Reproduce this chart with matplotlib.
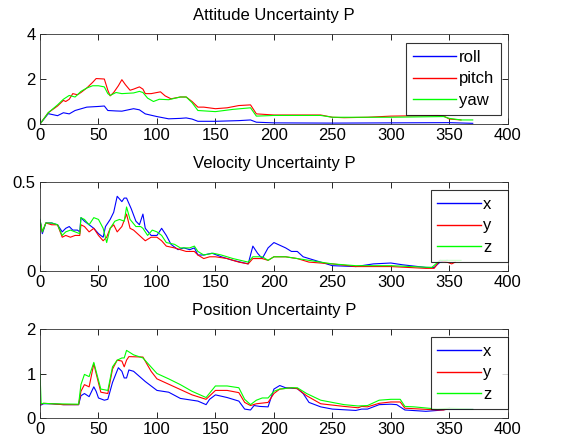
import matplotlib
matplotlib.use('Agg')
import matplotlib.pyplot as plt

plt.rcParams['font.family'] = ['Liberation Sans', 'DejaVu Sans']

# Attitude uncertainty
att_roll_x = [0, 7, 15, 20, 25, 30, 40, 50, 55, 58, 65, 70, 80, 85, 90, 100, 110, 120, 125, 130, 135, 150, 170, 180, 185, 200, 250, 300, 350, 370]
att_roll_y = [0, 0.46, 0.37, 0.5, 0.45, 0.6, 0.75, 0.78, 0.8, 0.6, 0.58, 0.57, 0.68, 0.63, 0.45, 0.33, 0.23, 0.25, 0.27, 0.22, 0.12, 0.12, 0.15, 0.18, 0.08, 0.05, 0.04, 0.05, 0.06, 0.03]
att_pitch_x = [0, 7, 15, 20, 22, 25, 28, 32, 35, 40, 45, 48, 55, 58, 60, 63, 67, 70, 73, 77, 80, 85, 88, 90, 95, 100, 103, 107, 112, 120, 125, 130, 135, 140, 150, 160, 170, 180, 185, 200, 240, 250, 260, 280, 300, 340, 345, 350, 360]
att_pitch_y = [0, 0.5, 0.8, 1.05, 1.0, 1.1, 1.35, 1.3, 1.4, 1.6, 1.85, 2.02, 2.0, 1.5, 1.25, 1.4, 1.7, 1.97, 1.75, 1.5, 1.55, 1.65, 1.55, 1.35, 1.35, 1.4, 1.43, 1.25, 1.12, 1.2, 1.2, 1.0, 0.75, 0.75, 0.68, 0.72, 0.82, 0.85, 0.45, 0.4, 0.4, 0.3, 0.28, 0.3, 0.35, 0.38, 0.36, 0.22, 0.18]
att_yaw_x = [0, 7, 15, 20, 25, 30, 35, 40, 45, 50, 55, 58, 60, 65, 70, 80, 85, 88, 92, 97, 102, 110, 120, 125, 130, 135, 150, 165, 180, 185, 200, 240, 250, 300, 345, 350, 360, 370]
att_yaw_y = [0, 0.5, 0.85, 1.1, 1.27, 1.2, 1.45, 1.6, 1.7, 1.7, 1.65, 1.35, 1.27, 1.4, 1.35, 1.38, 1.45, 1.4, 1.15, 1.0, 1.1, 1.08, 1.2, 1.2, 0.95, 0.6, 0.55, 0.65, 0.72, 0.35, 0.38, 0.38, 0.3, 0.3, 0.33, 0.25, 0.18, 0.18]

# Velocity uncertainty
vel_x_x = [0, 2, 5, 10, 15, 19, 22, 25, 28, 32, 34, 35, 38, 42, 46, 50, 54, 56, 60, 63, 66, 70, 72, 74, 78, 82, 85, 88, 90, 95, 100, 104, 108, 112, 118, 123, 128, 132, 135, 140, 147, 155, 165, 178, 182, 186, 190, 195, 200, 210, 215, 220, 225, 235, 250, 270, 285, 300, 310, 330, 337, 342, 348]
vel_x_y = [0.29, 0.21, 0.27, 0.27, 0.26, 0.22, 0.24, 0.25, 0.23, 0.23, 0.22, 0.3, 0.28, 0.26, 0.24, 0.21, 0.19, 0.25, 0.29, 0.33, 0.42, 0.39, 0.41, 0.41, 0.35, 0.28, 0.26, 0.32, 0.24, 0.2, 0.2, 0.24, 0.2, 0.15, 0.12, 0.13, 0.12, 0.13, 0.09, 0.09, 0.1, 0.08, 0.06, 0.04, 0.14, 0.1, 0.07, 0.13, 0.16, 0.13, 0.11, 0.11, 0.08, 0.06, 0.03, 0.025, 0.04, 0.045, 0.035, 0.02, 0.02, 0.05, 0.06]
vel_y_x = [0, 2, 5, 10, 15, 19, 22, 26, 30, 34, 35, 38, 42, 46, 50, 54, 57, 60, 63, 66, 70, 74, 77, 80, 85, 90, 95, 100, 104, 108, 115, 120, 125, 132, 135, 140, 145, 150, 160, 170, 178, 182, 190, 195, 200, 210, 220, 230, 250, 270, 300, 330, 337, 342, 348, 352, 355]
vel_y_y = [0.28, 0.22, 0.27, 0.26, 0.26, 0.19, 0.2, 0.19, 0.2, 0.2, 0.26, 0.25, 0.22, 0.24, 0.2, 0.17, 0.19, 0.24, 0.26, 0.22, 0.25, 0.32, 0.24, 0.23, 0.2, 0.17, 0.19, 0.19, 0.17, 0.14, 0.13, 0.12, 0.11, 0.11, 0.09, 0.07, 0.08, 0.08, 0.07, 0.05, 0.04, 0.07, 0.07, 0.06, 0.08, 0.08, 0.07, 0.05, 0.04, 0.025, 0.025, 0.015, 0.015, 0.06, 0.05, 0.04, 0.05]
vel_z_x = [0, 2, 5, 10, 15, 19, 22, 26, 30, 34, 35, 38, 42, 46, 50, 54, 57, 60, 64, 68, 72, 74, 77, 82, 86, 88, 92, 96, 100, 104, 108, 115, 120, 128, 132, 135, 140, 148, 155, 165, 178, 182, 190, 195, 200, 210, 220, 230, 250, 270, 300, 335, 342, 350, 360]
vel_z_y = [0.29, 0.22, 0.27, 0.27, 0.26, 0.2, 0.22, 0.23, 0.22, 0.21, 0.3, 0.29, 0.26, 0.3, 0.29, 0.24, 0.16, 0.24, 0.28, 0.29, 0.28, 0.36, 0.29, 0.25, 0.25, 0.24, 0.2, 0.23, 0.22, 0.2, 0.16, 0.15, 0.13, 0.13, 0.14, 0.11, 0.09, 0.1, 0.09, 0.07, 0.05, 0.08, 0.08, 0.06, 0.08, 0.08, 0.07, 0.06, 0.04, 0.03, 0.03, 0.02, 0.06, 0.06, 0.06]

# Position uncertainty
pos_x_x = [0, 3, 10, 20, 33, 35, 38, 42, 46, 48, 50, 55, 58, 62, 65, 67, 70, 72, 74, 76, 80, 90, 100, 110, 120, 130, 135, 142, 145, 150, 160, 170, 175, 180, 183, 188, 195, 200, 205, 210, 220, 225, 230, 240, 250, 270, 275, 280, 290, 300, 305, 312, 330, 340, 350, 370]
pos_x_y = [0.28, 0.32, 0.32, 0.3, 0.3, 0.5, 0.55, 0.48, 0.7, 0.6, 0.45, 0.4, 0.42, 0.8, 1.0, 1.13, 1.05, 0.9, 0.9, 1.08, 1.05, 0.82, 0.62, 0.58, 0.44, 0.4, 0.38, 0.3, 0.42, 0.52, 0.46, 0.38, 0.2, 0.18, 0.28, 0.26, 0.25, 0.65, 0.73, 0.68, 0.66, 0.55, 0.35, 0.25, 0.2, 0.17, 0.2, 0.2, 0.3, 0.31, 0.3, 0.18, 0.15, 0.17, 0.2, 0.2]
pos_y_x = [0, 3, 10, 20, 33, 35, 38, 42, 46, 48, 52, 58, 62, 66, 70, 72, 74, 76, 88, 95, 100, 110, 120, 130, 142, 150, 160, 170, 175, 180, 185, 195, 200, 205, 215, 220, 228, 240, 260, 272, 275, 280, 290, 300, 308, 312, 340, 345, 350]
pos_y_y = [0.3, 0.33, 0.32, 0.3, 0.3, 0.6, 0.75, 0.7, 1.22, 1.0, 0.58, 0.55, 1.1, 1.3, 1.28, 1.15, 1.3, 1.38, 1.37, 1.05, 0.88, 0.76, 0.64, 0.52, 0.42, 0.62, 0.62, 0.57, 0.35, 0.28, 0.32, 0.35, 0.55, 0.65, 0.68, 0.66, 0.5, 0.32, 0.26, 0.23, 0.26, 0.25, 0.33, 0.36, 0.36, 0.22, 0.18, 0.18, 0.22]
pos_z_x = [0, 1, 3, 10, 33, 35, 38, 42, 46, 48, 52, 58, 62, 66, 70, 72, 74, 80, 88, 100, 110, 120, 130, 142, 150, 160, 170, 175, 180, 185, 190, 195, 200, 205, 215, 220, 228, 240, 260, 272, 280, 290, 300, 308, 312, 320, 340, 350, 370]
pos_z_y = [1.0, 0.32, 0.33, 0.32, 0.31, 0.75, 0.98, 0.93, 1.25, 1.05, 0.65, 0.62, 1.15, 1.3, 1.35, 1.35, 1.52, 1.42, 1.35, 1.0, 0.88, 0.75, 0.6, 0.46, 0.72, 0.72, 0.68, 0.42, 0.3, 0.4, 0.45, 0.45, 0.6, 0.65, 0.68, 0.68, 0.55, 0.4, 0.3, 0.27, 0.28, 0.4, 0.42, 0.42, 0.26, 0.25, 0.2, 0.22, 0.2]

fs = 12
fig = plt.figure(figsize=(5.65, 4.47), dpi=100)

def setup(ax, title, ymax, yticks, yticklabels):
    ax.set_xlim(0, 400)
    ax.set_ylim(0, ymax)
    ax.set_xticks(range(0, 401, 50))
    ax.set_yticks(yticks)
    ax.set_yticklabels(yticklabels)
    ax.tick_params(direction='in', top=True, right=True, labelsize=fs, length=4, width=0.6, pad=3)
    for s in ax.spines.values():
        s.set_linewidth(0.6)
        s.set_color('#333333')
    ax.set_title(title, fontsize=fs, pad=10)

def add_legend(ax, anchor, expand=False):
    kw = dict(fontsize=fs, handlelength=2.6, handletextpad=0.15, borderaxespad=0,
              fancybox=False, labelspacing=0.4, borderpad=0.4)
    if expand:
        leg = ax.legend(loc='upper left', bbox_to_anchor=anchor, mode='expand', **kw)
    else:
        leg = ax.legend(loc='upper right', bbox_to_anchor=anchor, **kw)
    leg.get_frame().set_edgecolor('black')
    leg.get_frame().set_linewidth(0.8)
    for l in leg.get_lines():
        l.set_linewidth(1.0)

lw = 0.8
blue, red, green = '#0000ff', '#ff0000', '#00ff00'

ax1 = fig.add_axes([0.0708, 0.7226, 0.828, 0.2013])
ax1.plot(att_roll_x, att_roll_y, color=blue, lw=lw, label='roll')
ax1.plot(att_pitch_x, att_pitch_y, color=red, lw=lw, label='pitch')
ax1.plot(att_yaw_x, att_yaw_y, color=green, lw=lw, label='yaw')
setup(ax1, 'Attitude Uncertainty P', 4, [0, 2, 4], ['0', '2', '4'])
add_legend(ax1, (0.985, 0.9))

ax2 = fig.add_axes([0.0708, 0.3937, 0.828, 0.199])
ax2.plot(vel_x_x, vel_x_y, color=blue, lw=lw, label='x')
ax2.plot(vel_y_x, vel_y_y, color=red, lw=lw, label='y')
ax2.plot(vel_z_x, vel_z_y, color=green, lw=lw, label='z')
setup(ax2, 'Velocity Uncertainty P', 0.5, [0, 0.5], ['0', '0.5'])
add_legend(ax2, (0.835, 0.1, 0.165, 0.81), expand=True)

ax3 = fig.add_axes([0.0708, 0.0649, 0.828, 0.199])
ax3.plot(pos_x_x, pos_x_y, color=blue, lw=lw, label='x')
ax3.plot(pos_y_x, pos_y_y, color=red, lw=lw, label='y')
ax3.plot(pos_z_x, pos_z_y, color=green, lw=lw, label='z')
setup(ax3, 'Position Uncertainty P', 2, [0, 1, 2], ['0', '1', '2'])
add_legend(ax3, (0.835, 0.1, 0.165, 0.81), expand=True)

fig.savefig('out.png', dpi=100)
